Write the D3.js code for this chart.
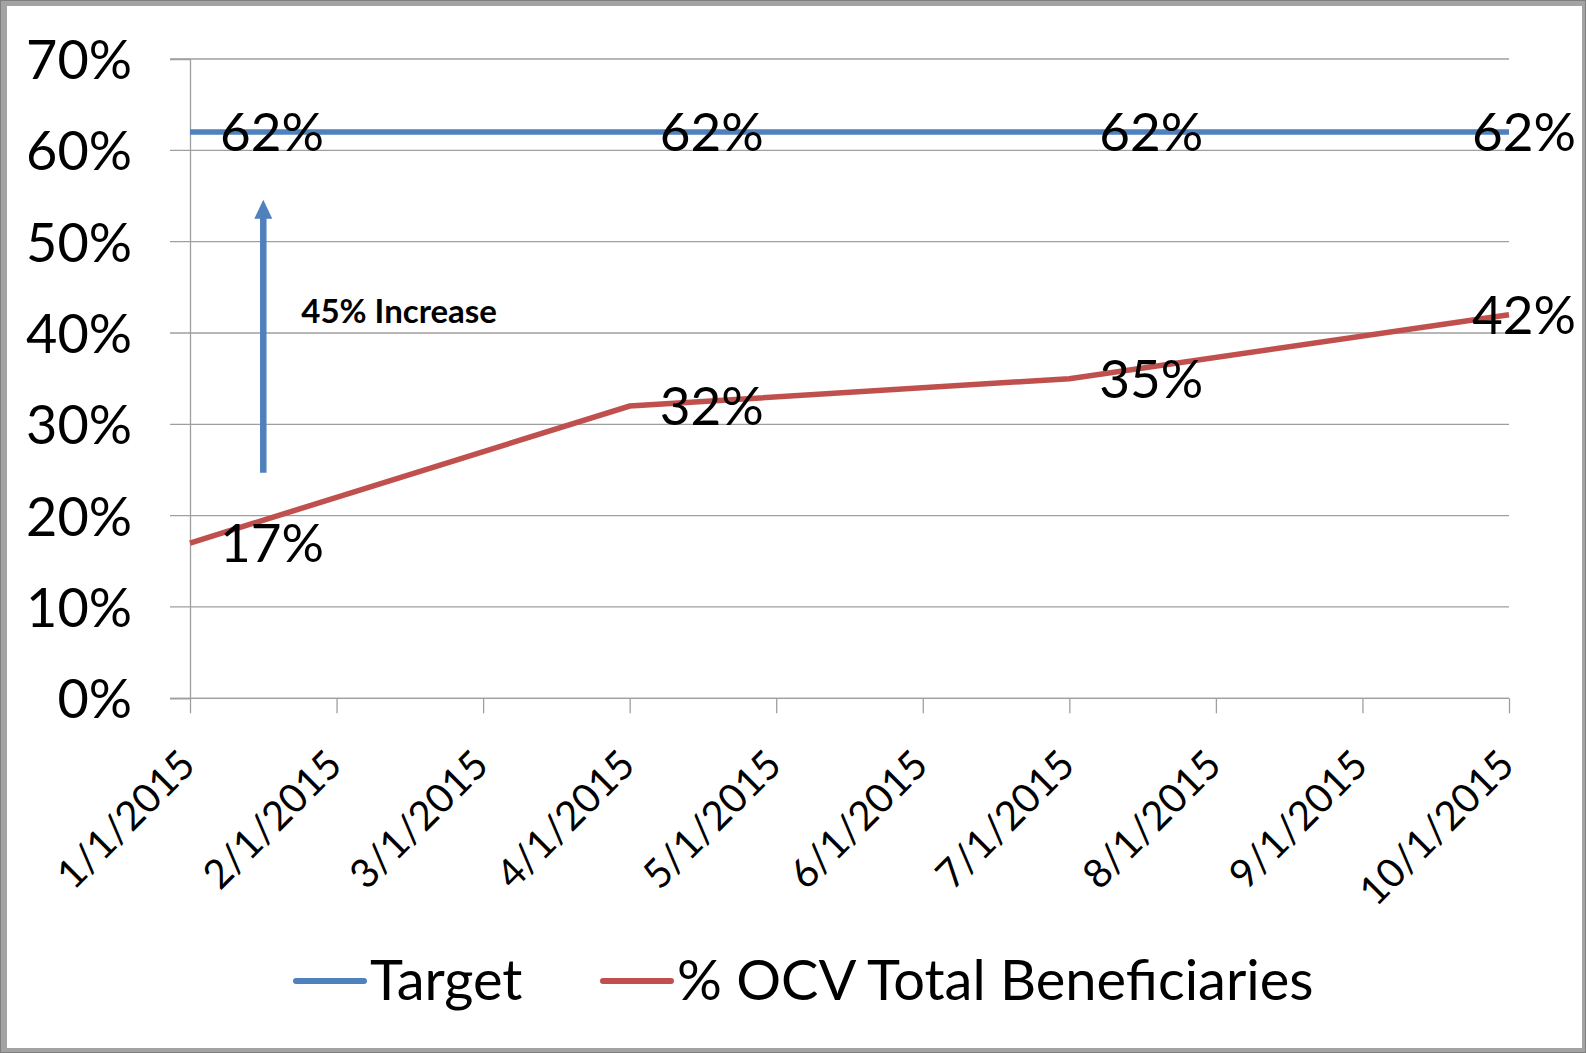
<!DOCTYPE html>
<html>
<head>
<meta charset="utf-8">
<script src="https://cdn.jsdelivr.net/npm/d3@7"></script>
<style>
  body { margin: 0; background: #fff; }
  svg { display: block; font-family: Lato, "Open Sans", sans-serif; }
</style>
</head>
<body>
<svg width="1586" height="1053"></svg>
<script>
// month categories on the x axis
var months = ["1/1/2015", "2/1/2015", "3/1/2015", "4/1/2015", "5/1/2015",
              "6/1/2015", "7/1/2015", "8/1/2015", "9/1/2015", "10/1/2015"];
var yTicks = [0, 0.1, 0.2, 0.3, 0.4, 0.5, 0.6, 0.7];

// series (only quarterly points are present)
var targetDates = ["1/1/2015", "4/1/2015", "7/1/2015", "10/1/2015"];
var targetValues = [0.62, 0.62, 0.62, 0.62];
var ocvDates = ["1/1/2015", "4/1/2015", "7/1/2015", "10/1/2015"];
var ocvValues = [0.17, 0.32, 0.35, 0.42];

var seriesNames = ["Target", "% OCV Total Beneficiaries"];
var colors = ["#4F81BD", "#C0504D"];

var svg = d3.select("svg"),
    width = +svg.attr("width"),
    height = +svg.attr("height");

// screenshot frame
svg.append("rect").attr("width", width).attr("height", height).attr("fill", "#a3a3a3");
svg.append("rect").attr("x", 0.5).attr("y", 0.5).attr("width", width - 1).attr("height", height - 1)
    .attr("fill", "none").attr("stroke", "#7f7f7f");
svg.append("rect").attr("x", 7).attr("y", 6).attr("width", width - 11).attr("height", height - 11)
    .attr("fill", "#fff");

var x = d3.scalePoint().domain(months).range([190, 1509]);
var y = d3.scaleLinear().domain([0, 0.7]).range([698.3, 59]);

// gridlines
svg.append("g")
    .selectAll("line")
    .data(yTicks)
    .enter().append("line")
      .attr("x1", 170).attr("x2", 1509)
      .attr("y1", function(d) { return y(d); })
      .attr("y2", function(d) { return y(d); })
      .attr("stroke", "#9f9f9f")
      .attr("stroke-width", 1.3);

// y axis
var yAxis = svg.append("g")
    .attr("transform", "translate(190,0)")
    .call(d3.axisLeft(y).tickValues(yTicks).tickFormat(d3.format(".0%")).tickSize(20).tickPadding(38));
yAxis.select(".domain").attr("stroke", "#9f9f9f").attr("stroke-width", 1.3);
yAxis.selectAll(".tick line").remove();
yAxis.selectAll("text")
    .attr("font-size", 54).attr("fill", "#000")
    .attr("font-family", "Lato, sans-serif")
    .attr("dy", "0.36em");

// x axis
var xAxis = svg.append("g")
    .attr("transform", "translate(0,698.3)")
    .call(d3.axisBottom(x).tickSize(15).tickSizeOuter(0));
xAxis.select(".domain").attr("stroke", "#9f9f9f").attr("stroke-width", 1.3)
    .attr("d", "M170,0H1509");
xAxis.selectAll(".tick line").attr("stroke", "#9f9f9f").attr("stroke-width", 1.3);
xAxis.selectAll("text")
    .attr("font-size", 40).attr("fill", "#000")
    .attr("font-family", "Lato, sans-serif")
    .attr("text-anchor", "end")
    .attr("y", 0).attr("dy", 0)
    .attr("transform", "translate(7,69) rotate(-45)");

var line = d3.line()
    .x(function(d) { return x(d[0]); })
    .y(function(d) { return y(d[1]); });

var series = [d3.zip(targetDates, targetValues), d3.zip(ocvDates, ocvValues)];

svg.append("g")
    .selectAll("path")
    .data(series)
    .enter().append("path")
      .attr("d", line)
      .attr("fill", "none")
      .attr("stroke", function(d, i) { return colors[i]; })
      .attr("stroke-width", 5.5);

// data labels, right of the point, kept inside the chart
var labels = svg.append("g")
    .attr("font-size", 53).attr("fill", "#000");
series.forEach(function(s) {
  labels.selectAll(null)
    .data(s)
    .enter().append("text")
      .attr("x", function(d) { return x(d[0]) + 30; })
      .attr("y", function(d) { return y(d[1]); })
      .attr("dy", "0.36em")
      .text(function(d) { return d3.format(".0%")(d[1]); })
      .each(function() {
        var t = d3.select(this), w = this.getComputedTextLength();
        if (+t.attr("x") + w > 1576) t.attr("x", 1576 - w);
      });
});

// annotation arrow
var ax = (x(months[0]) + x(months[1])) / 2;
svg.append("line")
    .attr("x1", ax).attr("x2", ax)
    .attr("y1", y(0.247)).attr("y2", y(0.53))
    .attr("stroke", colors[0]).attr("stroke-width", 6.5);
svg.append("path")
    .attr("d", "M" + (ax - 9) + "," + y(0.525) + "L" + ax + "," + y(0.546) + "L" + (ax + 9) + "," + y(0.525) + "Z")
    .attr("fill", colors[0]);
svg.append("text")
    .attr("x", ax + 38).attr("y", y(0.411))
    .attr("font-size", 33).attr("font-weight", "bold").attr("fill", "#000")
    .text("45% Increase");

// legend
var legend = svg.append("g").attr("font-size", 56).attr("fill", "#000");
var legX = [296, 603];
seriesNames.forEach(function(name, i) {
  legend.append("line")
      .attr("x1", legX[i]).attr("x2", legX[i] + 68)
      .attr("y1", 981).attr("y2", 981)
      .attr("stroke", colors[i]).attr("stroke-width", 6)
      .attr("stroke-linecap", "round");
  legend.append("text")
      .attr("x", legX[i] + 74).attr("y", 1000)
      .text(name);
});
</script>
</body>
</html>
